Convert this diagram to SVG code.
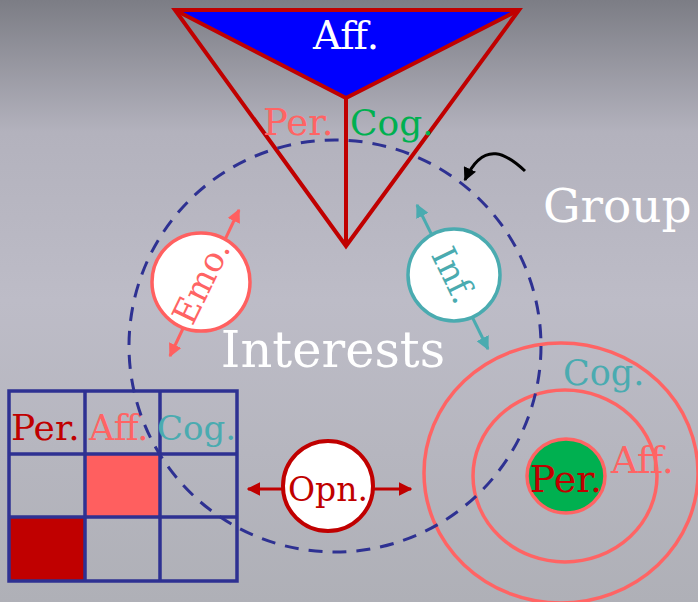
<svg xmlns="http://www.w3.org/2000/svg" width="698" height="602" viewBox="0 0 698 602">
<defs>
<linearGradient id="bg" x1="0" y1="0" x2="0" y2="1">
<stop offset="0" stop-color="#7c7d85"/>
<stop offset="0.22" stop-color="#b3b2bd"/>
<stop offset="0.5" stop-color="#bdbcc7"/>
<stop offset="1" stop-color="#afb0b7"/>
</linearGradient>
<marker id="hSal" viewBox="0 0 10 10" refX="9" refY="5" markerWidth="4.5" markerHeight="4.5" orient="auto-start-reverse" markerUnits="strokeWidth"><path d="M0,0 L10,5 L0,10 z" fill="#ff6060"/></marker>
<marker id="hTeal" viewBox="0 0 10 10" refX="9" refY="5" markerWidth="4.5" markerHeight="4.5" orient="auto-start-reverse" markerUnits="strokeWidth"><path d="M0,0 L10,5 L0,10 z" fill="#4aabb0"/></marker>
<marker id="hRed" viewBox="0 0 10 10" refX="9" refY="5" markerWidth="4.5" markerHeight="4.5" orient="auto-start-reverse" markerUnits="strokeWidth"><path d="M0,0 L10,5 L0,10 z" fill="#c00000"/></marker>
<marker id="hBlk" viewBox="0 0 10 10" refX="9" refY="5" markerWidth="4.5" markerHeight="4.5" orient="auto" markerUnits="strokeWidth"><path d="M0,0 L10,5 L0,10 z" fill="#000"/></marker>
</defs>
<style>
text{font-family:"DejaVu Serif","Liberation Serif",serif;}
.w{fill:#fff;}
.sal{fill:#ff6464;}
.grn{fill:#00b050;}
.tea{fill:#4aabb0;}
.red{fill:#c00000;}
.grid{fill:none;stroke:#2e3192;stroke-width:3.5;}
.ring{fill:none;stroke:#ff6464;stroke-width:3.5;}
</style>
<rect width="698" height="602" fill="url(#bg)"/>

<g id="pyramid">
<polygon points="175,10 519,10 346,98" fill="#0000ff"/>
<polygon points="175,10 519,10 346,246" fill="none" stroke="#c00000" stroke-width="4" stroke-linejoin="miter"/>
<polyline points="175,10 346,98 519,10" fill="none" stroke="#c00000" stroke-width="4"/>
<line x1="346" y1="98" x2="346" y2="246" stroke="#c00000" stroke-width="4"/>
<text x="346" y="49" font-size="39" text-anchor="middle" class="w">Aff.</text>
<text x="263" y="135" font-size="37" class="sal">Per.</text>
<text x="350" y="135" font-size="36" class="grn">Cog.</text>
</g>

<g id="grid">
<rect x="86" y="454" width="74" height="63" fill="#ff5f5f"/>
<rect x="9" y="517" width="76" height="63" fill="#c00000"/>
<rect x="9" y="391" width="228" height="190" class="grid"/>
<line x1="85" y1="391" x2="85" y2="581" class="grid"/>
<line x1="160" y1="391" x2="160" y2="581" class="grid"/>
<line x1="9" y1="454" x2="237" y2="454" class="grid"/>
<line x1="9" y1="517" x2="237" y2="517" class="grid"/>
<text x="11" y="440" font-size="36" class="red">Per.</text>
<text x="89" y="440" font-size="35" class="sal">Aff.</text>
<text x="157" y="440" font-size="34" class="tea">Cog.</text>
</g>

<g id="target">
<ellipse cx="561" cy="473" rx="137" ry="130" class="ring"/>
<ellipse cx="565" cy="476" rx="92" ry="86" class="ring"/>
<ellipse cx="566" cy="476" rx="39" ry="37" fill="#00b050" stroke="#ff6464" stroke-width="3.5"/>
<text x="566" y="492" font-size="38" text-anchor="middle" class="red">Per.</text>
<text x="611" y="473" font-size="37" class="sal">Aff.</text>
<text x="563" y="385" font-size="35" class="tea">Cog.</text>
</g>

<g id="group-circle">
<circle cx="335" cy="346" r="206" fill="none" stroke="#2e3192" stroke-width="3" stroke-dasharray="14 10"/>
</g>

<g id="labels">
<text x="333" y="367" font-size="49.5" text-anchor="middle" class="w">Interests</text>
<text x="543" y="222" font-size="47" class="w">Group</text>
</g>

<g id="connectors">
<line x1="170" y1="356" x2="239" y2="210" stroke="#ff6060" stroke-width="3" marker-start="url(#hSal)" marker-end="url(#hSal)"/>
<line x1="417" y1="205" x2="488" y2="349" stroke="#4aabb0" stroke-width="3" marker-start="url(#hTeal)" marker-end="url(#hTeal)"/>
<line x1="248" y1="489" x2="411" y2="489" stroke="#c00000" stroke-width="3" marker-start="url(#hRed)" marker-end="url(#hRed)"/>
<path d="M525,171 C508,155 484,138 465,180" fill="none" stroke="#000" stroke-width="3" marker-end="url(#hBlk)"/>
</g>

<g id="emo">
<circle cx="201" cy="282" r="49" fill="#fff" stroke="#ff6060" stroke-width="3.5"/>
<text x="0" y="12" font-size="34" text-anchor="middle" class="sal" transform="translate(201,282) rotate(-64)">Emo.</text>
</g>

<g id="inf">
<circle cx="454" cy="275" r="46" fill="#fff" stroke="#4aabb0" stroke-width="3.5"/>
<text x="0" y="12" font-size="34" text-anchor="middle" class="tea" transform="translate(454,275) rotate(64)">Inf.</text>
</g>

<g id="opn">
<circle cx="328" cy="486" r="45" fill="#fff" stroke="#c00000" stroke-width="4"/>
<text x="328" y="501" font-size="33" text-anchor="middle" class="red">Opn.</text>
</g>
</svg>
